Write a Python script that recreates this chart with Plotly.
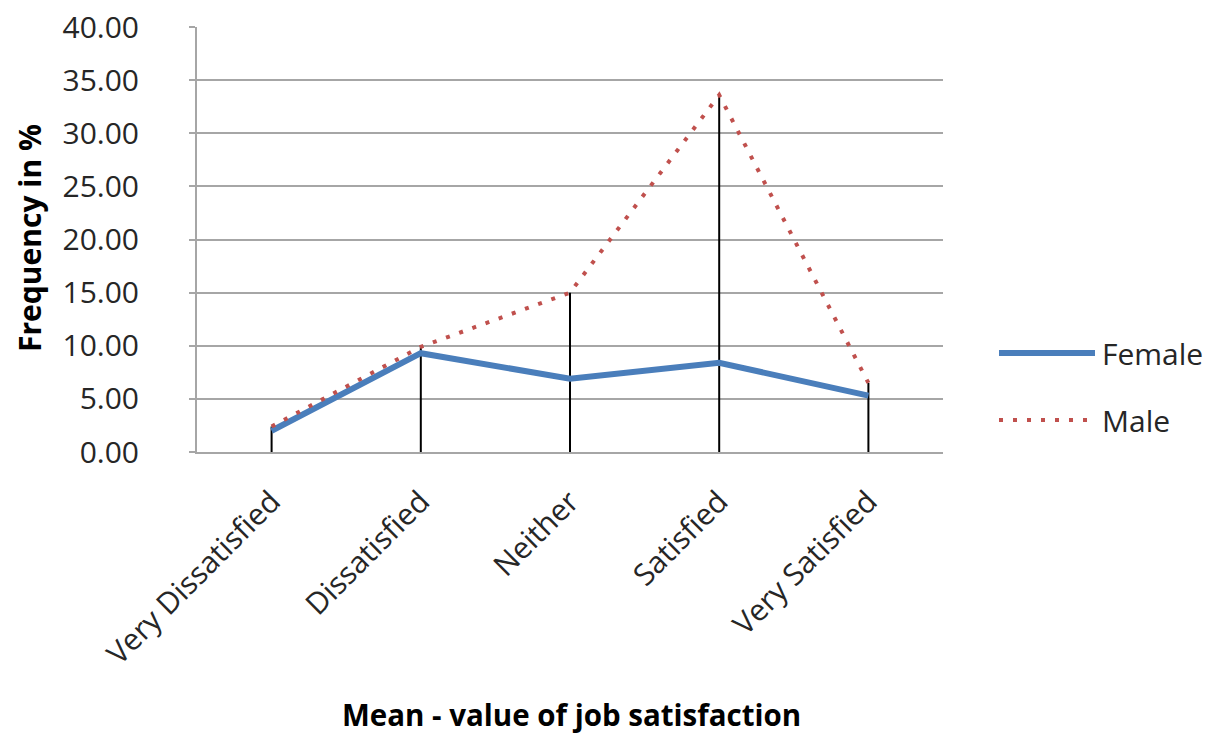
import plotly.graph_objects as go

# Job satisfaction categories and frequency (%) by gender
categories = ["Very Dissatisfied", "Dissatisfied", "Neither", "Satisfied", "Very Satisfied"]
female = [2.0, 9.3, 6.9, 8.4, 5.3]
male = [2.4, 9.9, 15.0, 33.6, 6.5]
y_ticks = [0, 5, 10, 15, 20, 25, 30, 35, 40]

FONT = "Open Sans"
BLUE = "#4a7ebb"
RED = "#c0504d"
GRID = "#a6a6a6"

fig = go.Figure()

# Drop lines from the axis up to the higher of the two series
drop_x, drop_y = [], []
for c, f, m in zip(categories, female, male):
    drop_x += [c, c, None]
    drop_y += [0, max(f, m), None]
fig.add_trace(go.Scatter(x=drop_x, y=drop_y, mode="lines",
                         line=dict(color="black", width=2),
                         showlegend=False, hoverinfo="skip"))

fig.add_trace(go.Scatter(x=categories, y=female, mode="lines", name="Female",
                         line=dict(color=BLUE, width=6), showlegend=False))
fig.add_trace(go.Scatter(x=categories, y=male, mode="lines", name="Male",
                         line=dict(color=RED, width=4, dash="4px,10px"),
                         showlegend=False))

L, R, T, B = 197, 273, 27, 284
W, H = 1216, 736
pw, ph = W - L - R, H - T - B


def px(xp):
    return (xp - L) / pw


def py(yp):
    return (T + ph - yp) / ph


# Legend drawn as shapes + labels
fig.add_shape(type="line", xref="paper", yref="paper",
              x0=px(999), x1=px(1095), y0=py(353), y1=py(353),
              line=dict(color=BLUE, width=6))
fig.add_shape(type="line", xref="paper", yref="paper",
              x0=px(999), x1=px(1089), y0=py(420), y1=py(420),
              line=dict(color=RED, width=4, dash="4px,10px"))
for label, yy in [("Female", 353), ("Male", 420)]:
    fig.add_annotation(xref="paper", yref="paper", x=px(1100), y=py(yy),
                       text=label, showarrow=False, xanchor="left", yanchor="middle",
                       font=dict(family=FONT, size=30, color="#262626"))

# Axis titles
fig.add_annotation(xref="paper", yref="paper", x=px(29), y=py(238),
                   text="<b>Frequency in %</b>", textangle=-90, showarrow=False,
                   xanchor="center", yanchor="middle",
                   font=dict(family=FONT, size=30, color="black"))
fig.add_annotation(xref="paper", yref="paper", x=px(571), y=py(715),
                   text="<b>Mean - value of job satisfaction</b>", showarrow=False,
                   xanchor="center", yanchor="middle",
                   font=dict(family=FONT, size=29.5, color="black"))

fig.update_layout(
    width=W, height=H,
    margin=dict(l=L, r=R, t=T, b=B, autoexpand=False),
    paper_bgcolor="white", plot_bgcolor="white",
    font=dict(family=FONT, color="#262626"),
    showlegend=False,
)
fig.update_xaxes(
    type="category", range=[-0.5, 4.5],
    showgrid=False, showline=True, linecolor=GRID, linewidth=2,
    ticks="", tickangle=-45, ticklabelstandoff=18,
    tickfont=dict(family=FONT, size=30, color="#262626"),
    automargin=False, zeroline=False,
)
fig.update_yaxes(
    range=[0, 40], tickvals=y_ticks, tickformat=".2f",
    showgrid=True, gridcolor=GRID, gridwidth=2,
    showline=True, linecolor=GRID, linewidth=2,
    ticks="outside", ticklen=6, tickcolor=GRID, tickwidth=2,
    ticklabelstandoff=44,
    tickfont=dict(family=FONT, size=30, color="#262626"),
    automargin=False, zeroline=False,
)

fig.write_html("out.html")
